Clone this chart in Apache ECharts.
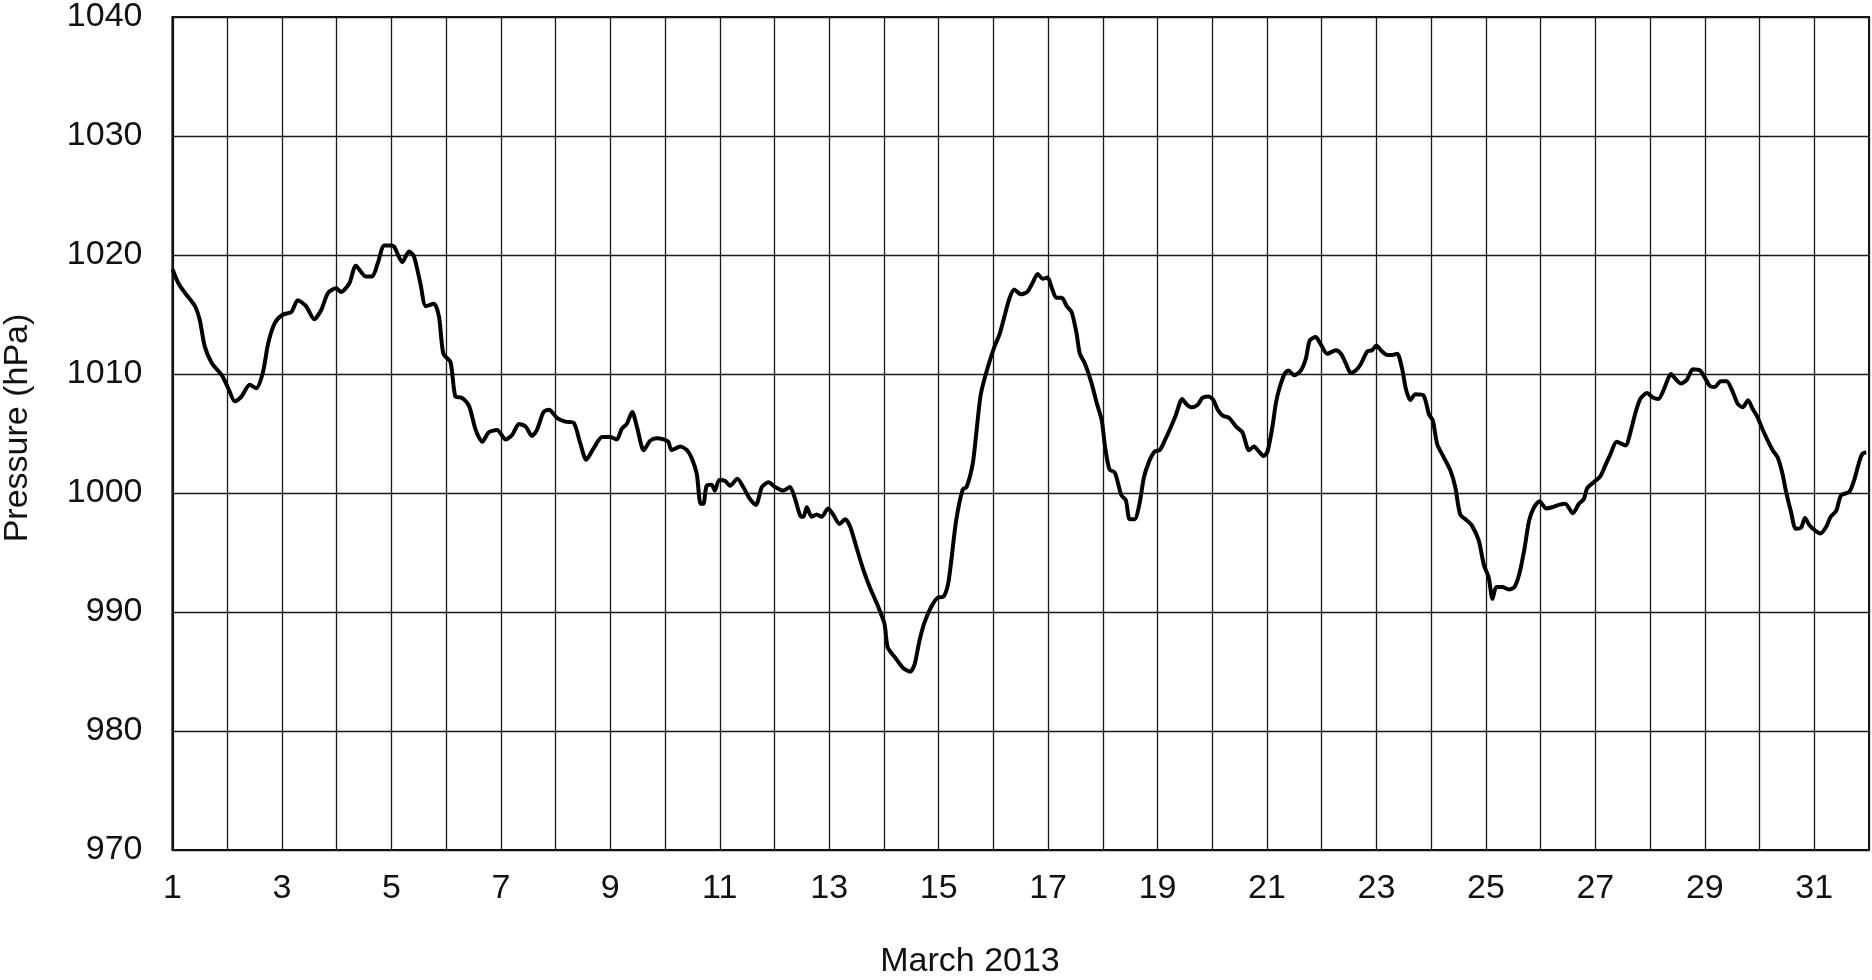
<!DOCTYPE html>
<html>
<head>
<meta charset="utf-8">
<script src="https://cdn.jsdelivr.net/npm/echarts@6/dist/echarts.min.js"></script>
<style>
html,body{margin:0;padding:0;background:#fff;}
#chart{width:1872px;height:980px;}
</style>
</head>
<body>
<div id="chart"></div>
<script>
const days = [
1.00,1.11,1.23,1.41,1.50,1.59,1.72,1.90,2.02,2.14,2.26,2.41,2.53,2.65,2.75,2.87,3.02,3.17,3.29,3.44,3.59,3.72,3.84,3.99,4.08,4.23,4.35,4.53,4.65,4.75,4.87,4.99,
5.05,5.20,5.32,5.41,5.53,5.63,5.78,5.87,5.95,6.08,6.17,6.29,6.42,6.54,6.66,6.78,6.93,7.09,7.21,7.33,7.45,7.57,7.66,7.78,7.88,8.03,8.18,8.33,8.45,8.56,8.70,8.85,
9.00,9.12,9.21,9.30,9.40,9.49,9.61,9.73,9.85,9.97,10.06,10.12,10.28,10.40,10.49,10.58,10.65,10.70,10.76,10.85,10.91,10.99,11.10,11.19,11.32,11.43,11.55,11.66,11.77,11.89,
12.01,12.16,12.28,12.37,12.47,12.53,12.59,12.68,12.77,12.86,12.98,13.07,13.19,13.29,13.38,13.50,13.62,13.74,13.89,14.01,14.07,14.20,14.35,14.48,14.56,14.65,14.74,14.86,14.98,
15.09,15.17,15.23,15.32,15.44,15.51,15.62,15.68,15.77,15.90,16.02,16.11,16.20,16.29,16.38,16.50,16.62,16.71,16.81,16.90,16.99,17.07,17.15,17.25,17.34,17.43,17.52,17.58,17.67,17.79,17.88,17.98,
18.04,18.12,18.22,18.34,18.42,18.49,18.58,18.67,18.75,18.85,18.95,19.04,19.13,19.22,19.33,19.45,19.52,19.61,19.73,19.82,19.93,20.02,20.10,20.19,20.31,20.43,20.55,20.67,20.76,20.85,20.94,
21.01,21.10,21.16,21.22,21.32,21.39,21.50,21.62,21.71,21.78,21.89,21.98,22.10,22.26,22.35,22.44,22.53,22.62,22.71,22.83,22.92,23.00,23.08,23.20,23.29,23.38,23.47,23.54,23.62,23.71,23.86,23.96,
24.03,24.11,24.23,24.35,24.44,24.53,24.65,24.74,24.87,24.96,25.05,25.12,25.19,25.30,25.42,25.52,25.61,25.70,25.79,25.88,25.98,26.10,26.21,26.33,26.45,26.59,26.70,26.79,26.85,26.97,
27.09,27.18,27.27,27.39,27.55,27.64,27.73,27.82,27.94,28.06,28.15,28.26,28.38,28.48,28.56,28.67,28.78,28.91,29.00,29.09,29.18,29.29,29.40,29.51,29.60,29.69,29.79,29.87,29.96,
30.05,30.15,30.24,30.33,30.42,30.48,30.57,30.66,30.76,30.83,30.91,31.00,31.11,31.21,31.30,31.40,31.49,31.64,31.73,31.82,31.88,31.95
];
const pressure = [
1018.8,1017.6,1016.8,1015.7,1014.5,1012.3,1010.9,1009.9,1008.8,1007.7,1008.1,1009.1,1008.8,1010.1,1012.6,1014.3,1015.0,1015.2,1016.2,1015.7,1014.6,1015.4,1016.8,1017.2,1016.9,1017.6,1019.1,1018.2,1018.2,1019.3,1020.8,1020.8,
1020.7,1019.4,1020.3,1019.9,1017.6,1015.7,1015.9,1014.8,1011.7,1011.0,1008.1,1008.0,1007.3,1005.3,1004.3,1005.1,1005.3,1004.5,1004.9,1005.8,1005.6,1004.8,1005.3,1006.8,1007.0,1006.3,1006.0,1005.9,1004.2,1002.8,1003.8,1004.7,
1004.7,1004.5,1005.4,1005.8,1006.8,1005.5,1003.6,1004.4,1004.6,1004.5,1004.3,1003.6,1003.9,1003.6,1002.9,1001.6,999.1,999.1,1000.6,1000.7,1000.2,1001.1,1001.0,1000.6,1001.2,1000.5,999.5,999.0,1000.5,1000.9,
1000.5,1000.2,1000.5,999.6,998.1,998.0,998.8,998.0,998.2,998.0,998.7,998.2,997.4,997.8,997.2,995.4,993.6,992.1,990.5,989.0,987.0,986.2,985.3,985.0,985.6,987.6,989.1,990.4,991.2,
991.3,992.3,994.3,997.7,1000.3,1000.5,1002.4,1004.7,1008.3,1010.6,1012.3,1013.3,1014.8,1016.3,1017.1,1016.7,1016.9,1017.6,1018.4,1018.0,1018.1,1017.2,1016.4,1016.4,1015.7,1015.2,1013.4,1011.7,1010.9,1009.3,1007.7,1006.1,
1003.9,1002.0,1001.7,999.8,999.4,997.8,997.8,999.1,1001.3,1002.7,1003.5,1003.6,1004.4,1005.3,1006.5,1007.9,1007.5,1007.2,1007.4,1008.0,1008.1,1007.8,1007.0,1006.5,1006.3,1005.6,1005.1,1003.6,1003.9,1003.5,1003.1,
1003.5,1005.6,1007.5,1008.7,1010.0,1010.3,1009.9,1010.3,1011.3,1012.8,1013.1,1012.5,1011.7,1012.0,1011.7,1010.9,1010.1,1010.3,1010.8,1011.9,1012.0,1012.4,1012.0,1011.6,1011.6,1011.7,1010.4,1008.7,1007.8,1008.3,1008.2,1006.6,
1006.1,1004.1,1003.0,1001.9,1000.5,998.2,997.7,997.3,996.0,994.0,992.9,991.1,992.1,992.1,991.9,992.1,993.2,995.2,997.7,998.8,999.3,998.7,998.8,999.0,999.1,998.3,999.1,999.5,1000.4,1000.9,
1001.4,1002.3,1003.2,1004.3,1004.0,1005.1,1006.7,1007.9,1008.4,1008.0,1007.9,1008.8,1010.0,1009.5,1009.2,1009.5,1010.4,1010.3,1009.7,1009.0,1008.9,1009.4,1009.4,1008.5,1007.5,1007.2,1007.8,1007.1,1006.4,
1005.4,1004.4,1003.6,1003.0,1001.6,1000.2,998.5,997.0,997.1,997.9,997.3,996.9,996.6,997.1,998.0,998.5,999.8,1000.1,1001.1,1002.6,1003.3,1003.4
];
const xMin = 1, xMax = 32, xStep = 1;
const yMin = 970, yMax = 1040, yStep = 10;
const xTitle = 'March 2013';
const yTitle = 'Pressure (hPa)';

const font = '"Liberation Sans", Arial, sans-serif';
const chart = echarts.init(document.getElementById('chart'), null, {renderer: 'canvas'});
chart.setOption({
  animation: false,
  backgroundColor: '#ffffff',
  grid: {left: 172.5, right: 1.5, top: 16, bottom: 130, show: true, borderColor: '#111', borderWidth: 2, containLabel: false},
  xAxis: {
    type: 'value', min: xMin, max: xMax, interval: xStep,
    axisLine: {show: true, lineStyle: {color: '#111', width: 2.2}},
    axisTick: {show: false},
    splitLine: {show: true, lineStyle: {color: '#1a1a1a', width: 1.3}},
    axisLabel: {
      margin: 22, fontSize: 34, color: '#111', fontFamily: font,
      formatter: v => (Math.round(v) % 2 === 1 ? String(Math.round(v)) : '')
    }
  },
  yAxis: {
    type: 'value', min: yMin, max: yMax, interval: yStep,
    axisLine: {show: true, lineStyle: {color: '#111', width: 2.2}},
    axisTick: {show: false},
    splitLine: {show: true, lineStyle: {color: '#1a1a1a', width: 1.3}},
    axisLabel: {margin: 30, fontSize: 34, color: '#111', fontFamily: font, formatter: v => String(v)}
  },
  graphic: [
    {type: 'text', x: 970, y: 962, style: {text: xTitle, fontSize: 34, fontFamily: font, fill: '#111', textAlign: 'center', textVerticalAlign: 'middle'}},
    {type: 'text', x: 18, y: 428, rotation: Math.PI / 2, style: {text: yTitle, fontSize: 34, fontFamily: font, fill: '#111', textAlign: 'center', textVerticalAlign: 'middle'}}
  ],
  series: [{
    type: 'line',
    data: days.map((d, i) => [d, pressure[i]]),
    showSymbol: false,
    smooth: 0.25,
    lineStyle: {color: '#000', width: 4},
    z: 5
  }]
});
</script>
</body>
</html>
